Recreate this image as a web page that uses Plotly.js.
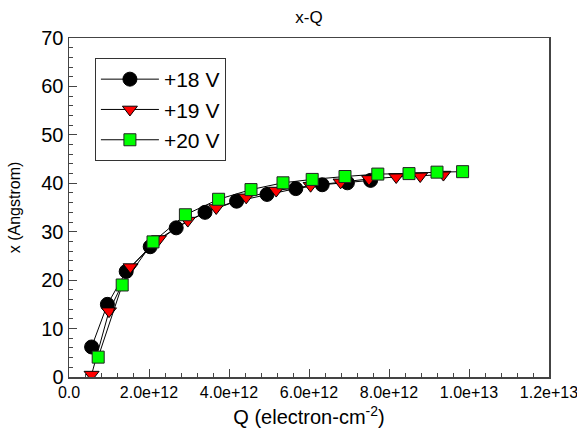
<!DOCTYPE html>
<html>
<head>
<meta charset="utf-8">
<script src="https://cdn.plot.ly/plotly-3.0.1.min.js"></script>
<style>html,body{margin:0;padding:0;background:#fff;}#chart{width:577px;height:444px;}</style>
</head>
<body>
<div id="chart"></div>
<script>
// Q values (electron-cm^-2) and x values (Angstrom)
var q18 = [5.65e11, 9.6e11, 1.43e12, 2.03e12, 2.68e12, 3.40e12, 4.19e12, 4.95e12, 5.67e12, 6.33e12, 6.96e12, 7.54e12];
var x18 = [6.2, 15.0, 21.8, 26.9, 30.8, 34.0, 36.3, 37.7, 38.9, 39.7, 40.1, 40.6];
var q19 = [5.65e11, 1.0e12, 1.54e12, 2.25e12, 2.97e12, 3.68e12, 4.43e12, 5.18e12, 6.04e12, 6.79e12, 7.50e12, 8.18e12, 8.78e12, 9.36e12];
var x19 = [0.5, 13.6, 22.7, 28.5, 32.3, 34.9, 37.1, 38.5, 39.5, 40.2, 40.9, 41.3, 41.5, 41.8];
var q20 = [7.3e11, 1.33e12, 2.10e12, 2.91e12, 3.74e12, 4.55e12, 5.35e12, 6.08e12, 6.90e12, 7.72e12, 8.50e12, 9.20e12, 9.84e12];
var x20 = [4.1, 19.0, 27.9, 33.5, 36.7, 38.7, 40.1, 40.8, 41.4, 41.9, 42.0, 42.3, 42.4];
var seriesNames = ['+18 V', '+19 V', '+20 V'];
var xTickVals = [0, 2e12, 4e12, 6e12, 8e12, 1e13, 1.2e13];
var xTickText = ['0.0', '2.0e+12', '4.0e+12', '6.0e+12', '8.0e+12', '1.0e+13', '1.2e+13'];
var yTickVals = [0, 10, 20, 30, 40, 50, 60, 70];

var FONT = 'Liberation Sans, Arial, sans-serif';
var lineStyle = {color: '#000', width: 1};

var traces = [
  {x: q18, y: x18, name: seriesNames[0], mode: 'lines+markers', line: lineStyle,
   marker: {symbol: 'circle', size: 14, color: '#000', line: {color: '#000', width: 1}}},
  {x: q19, y: x19, name: seriesNames[1], mode: 'lines+markers', line: lineStyle,
   marker: {symbol: 'triangle-down', size: 13, color: '#ff0000', line: {color: '#000', width: 1}}},
  {x: q20, y: x20, name: seriesNames[2], mode: 'lines+markers', line: lineStyle,
   marker: {symbol: 'square', size: 12, color: '#00ff00', line: {color: '#222', width: 1}}}
];

var layout = {
  width: 577, height: 444,
  margin: {l: 69, r: 28, t: 38, b: 67},
  paper_bgcolor: '#fff', plot_bgcolor: '#fff',
  font: {family: FONT, color: '#000'},
  title: {text: 'x-Q', font: {size: 17, family: FONT, color: '#000'}, x: 0.5355, xanchor: 'center', y: 0.962, yanchor: 'middle'},
  showlegend: true,
  legend: {x: 0.054, y: 0.941, xanchor: 'left', yanchor: 'top', bgcolor: '#fff',
           bordercolor: '#333', borderwidth: 1, font: {size: 21, family: FONT, color: '#000'},
           itemwidth: 58, tracegroupgap: 0},
  xaxis: {
    range: [0, 1.2e13], tickmode: 'array', tickvals: xTickVals, ticktext: xTickText,
    ticklabeloverflow: 'allow',
    ticks: 'inside', ticklen: 8, tickwidth: 1, tickcolor: '#444',
    showline: true, linecolor: '#444', linewidth: 1.5, mirror: true,
    showgrid: false, zeroline: false,
    tickfont: {size: 16, family: FONT, color: '#000'},
    minor: {tickmode: 'linear', tick0: 0, dtick: 4e11, ticks: 'inside', ticklen: 4, tickcolor: '#444', showgrid: false},
    title: {text: 'Q (electron-cm<sup>-2</sup>)', font: {size: 20, family: FONT, color: '#000'}, standoff: 10}
  },
  yaxis: {
    range: [0, 70], tickmode: 'array', tickvals: yTickVals,
    ticks: 'inside', ticklen: 8, tickwidth: 1, tickcolor: '#444',
    showline: true, linecolor: '#444', linewidth: 1.5, mirror: true,
    showgrid: false, zeroline: false,
    tickfont: {size: 20, family: FONT, color: '#000'},
    minor: {tickmode: 'linear', tick0: 0, dtick: 2, ticks: 'inside', ticklen: 4, tickcolor: '#444', showgrid: false},
    title: {text: 'x (Angstrom)', font: {size: 16, family: FONT, color: '#000'}, standoff: 16}
  }
};

Plotly.newPlot('chart', traces, layout, {displayModeBar: false, staticPlot: true});
</script>
</body>
</html>
